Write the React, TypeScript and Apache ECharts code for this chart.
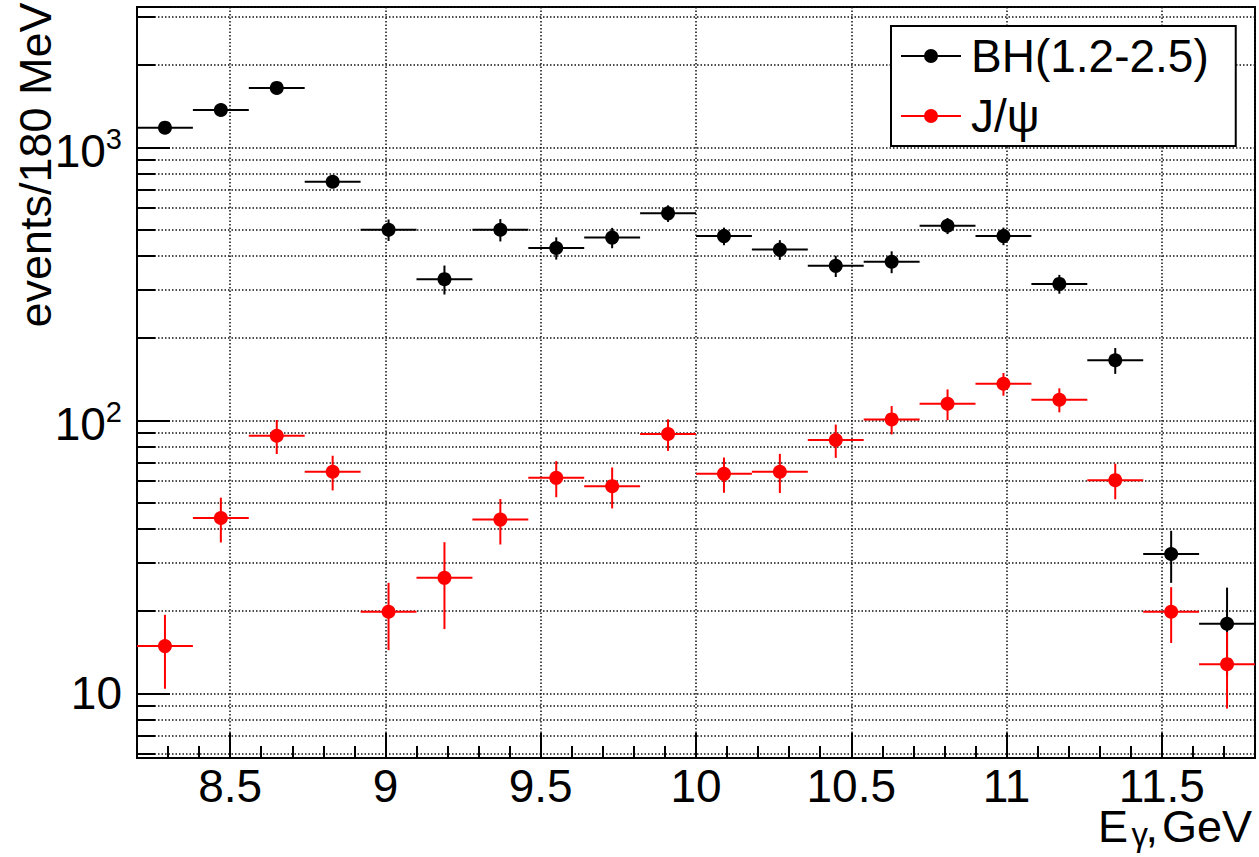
import React, { useEffect, useRef } from 'react';
import * as echarts from 'echarts';

// ---- data ----
const BIN_CENTERS = [8.29, 8.47, 8.65, 8.83, 9.01, 9.19, 9.37, 9.55, 9.73, 9.91, 10.09, 10.27, 10.45, 10.63, 10.81, 10.99, 11.17, 11.35, 11.53, 11.71];
const BIN_WIDTH = 0.18;
const BH_COUNTS = [1180, 1370, 1650, 748, 499, 329, 499, 428, 467, 573, 473, 422, 368, 381, 516, 473, 316, 166, 32.4, 18.0];
const BH_ERRORS = [35, 38, 42, 30, 45, 40, 47, 40, 40, 40, 35, 35, 33, 35, 35, 35, 25, 18, 7, 6.4];
const JPSI_COUNTS = [14.9, 43.9, 87.8, 64.8, 19.9, 26.5, 43.3, 61.6, 57.4, 89.1, 63.7, 64.8, 84.7, 100.8, 115, 136.1, 119, 60.4, 19.9, 12.8];
const JPSI_ERRORS = [4.5, 8.2, 12.5, 9.4, 5.5, 9.3, 8.2, 9.3, 9.8, 11.8, 9.4, 10.6, 11.8, 12, 14.8, 13, 12, 9, 4.6, 4];
const SERIES_NAMES = ['BH(1.2-2.5)', 'J/ψ'];
const SERIES_COLORS = ['#000000', '#ff0000'];
const X_RANGE = [8.2, 11.8];
const Y_RANGE = [5.8, 3265];
const Y_TITLE = 'events/180 MeV';
const X_TITLE_PARTS = ['E', 'γ', ',', 'GeV'];

const FONT = '"Liberation Sans", Arial, Helvetica, sans-serif';

function makeData(counts: number[], errors: number[]) {
  return BIN_CENTERS.map((x, i) => [x, counts[i], errors[i]]);
}

function makeRenderItem(color: string) {
  return (params: any, api: any) => {
    const x = api.value(0);
    const y = api.value(1);
    const e = api.value(2);
    const c = api.coord([x, y]);
    const l = api.coord([x - BIN_WIDTH / 2, y]);
    const r = api.coord([x + BIN_WIDTH / 2, y]);
    const t = api.coord([x, y + e]);
    const b = api.coord([x, Math.max(y - e, 1e-3)]);
    return {
      type: 'group',
      children: [
        { type: 'line', shape: { x1: l[0], y1: c[1], x2: r[0], y2: c[1] }, style: { stroke: color, lineWidth: 2 } },
        { type: 'line', shape: { x1: c[0], y1: t[1], x2: c[0], y2: b[1] }, style: { stroke: color, lineWidth: 2 } },
        { type: 'circle', shape: { cx: c[0], cy: c[1], r: 7 }, style: { fill: color } },
      ],
    };
  };
}

const LEGEND_ICON = 'path://M0,6L60,6L60,8L0,8Z M23,7A7,7,0,1,1,37,7A7,7,0,1,1,23,7Z';

const gridLineStyle = { color: '#111', width: 1.5, type: [1.5, 2] as any };

function titleText(text: string, x: number, y: number, size: number) {
  return {
    type: 'text',
    x,
    y,
    style: {
      text, font: `${size}px ${FONT}`, lineHeight: Math.round(size * 0.75), fill: '#000',
      align: 'right', verticalAlign: 'middle', textAlign: 'right', textVerticalAlign: 'middle',
    },
  };
}

export default function App() {
  const ref = useRef<HTMLDivElement>(null);
  useEffect(() => {
    document.body.style.margin = '0';
    const chart = echarts.init(ref.current!, null, { renderer: 'svg' });
    const option: any = {
      animation: false,
      textStyle: { fontFamily: FONT },
      grid: { left: 137, top: 7, right: 4, bottom: 99, show: true, borderColor: '#000', borderWidth: 2, backgroundColor: 'transparent' },
      xAxis: {
        type: 'value',
        min: X_RANGE[0],
        max: X_RANGE[1],
        splitNumber: 7,
        axisLine: { show: true, lineStyle: { color: '#000', width: 2 } },
        axisTick: { show: true, inside: true, length: 25, lineStyle: { color: '#000', width: 2 } },
        minorTick: { show: true, splitNumber: 5, length: 12, lineStyle: { color: '#000', width: 2 } },
        splitLine: { show: true, lineStyle: gridLineStyle },
        axisLabel: {
          show: true, margin: 11, color: '#000', fontSize: 46, lineHeight: 34, fontFamily: FONT,
          showMinLabel: false, showMaxLabel: false,
          formatter: (v: number) => {
            const r = Math.round(v * 2) / 2;
            if (Math.abs(v - r) > 1e-6) return '';
            return String(r);
          },
        },
      },
      yAxis: {
        type: 'log',
        logBase: 10,
        min: Y_RANGE[0],
        max: Y_RANGE[1],
        axisLine: { show: true, lineStyle: { color: '#000', width: 2 } },
        axisTick: { show: true, inside: true, length: 33, lineStyle: { color: '#000', width: 2 } },
        minorTick: { show: true, splitNumber: 9, length: 18, lineStyle: { color: '#000', width: 2 } },
        splitLine: { show: true, lineStyle: gridLineStyle },
        minorSplitLine: { show: true, lineStyle: gridLineStyle },
        axisLabel: {
          show: true, margin: 15, color: '#000', fontFamily: FONT,
          showMinLabel: false, showMaxLabel: false,
          formatter: (v: number) => {
            const p = Math.log10(v);
            const r = Math.round(p);
            if (Math.abs(p - r) > 1e-6) return '';
            if (r === 1) return '{m|10}';
            return `{mp|10}{s|${r}}`;
          },
          rich: {
            m: { fontSize: 46, lineHeight: 46, fontFamily: FONT, color: '#000' },
            mp: { fontSize: 46, lineHeight: 46, padding: [8, 0, 0, 0], fontFamily: FONT, color: '#000' },
            s: { fontSize: 29, lineHeight: 44, verticalAlign: 'top', fontFamily: FONT, color: '#000' },
          },
        },
      },
      legend: {
        orient: 'vertical',
        left: 891,
        top: 26,
        padding: [5, 27, 5, 10],
        itemGap: 10,
        itemWidth: 60,
        itemHeight: 14,
        backgroundColor: '#fff',
        borderColor: '#000',
        borderWidth: 2,
        selectedMode: false,
        textStyle: { fontSize: 46, lineHeight: 50, color: '#000', fontFamily: FONT, padding: [0, 0, 0, 5] },
        data: SERIES_NAMES.map((n) => ({ name: n, icon: LEGEND_ICON })),
        itemStyle: { borderWidth: 0 },
      },
      graphic: [
        {
          type: 'text',
          x: 35,
          y: 165,
          rotation: Math.PI / 2,
          style: { text: Y_TITLE, font: `45px ${FONT}`, fill: '#000', align: 'center', verticalAlign: 'middle', textAlign: 'center', textVerticalAlign: 'middle' },
        },
        titleText(X_TITLE_PARTS[0], 1128, 826, 45),
        titleText(X_TITLE_PARTS[1], 1148, 834, 33),
        titleText(X_TITLE_PARTS[2], 1158, 826, 45),
        titleText(X_TITLE_PARTS[3], 1252, 826, 45),
      ],
      series: [
        {
          name: SERIES_NAMES[0],
          type: 'custom',
          itemStyle: { color: SERIES_COLORS[0] },
          encode: { x: 0, y: 1 },
          data: makeData(BH_COUNTS, BH_ERRORS),
          renderItem: makeRenderItem(SERIES_COLORS[0]),
          z: 3,
        },
        {
          name: SERIES_NAMES[1],
          type: 'custom',
          itemStyle: { color: SERIES_COLORS[1] },
          encode: { x: 0, y: 1 },
          data: makeData(JPSI_COUNTS, JPSI_ERRORS),
          renderItem: makeRenderItem(SERIES_COLORS[1]),
          z: 4,
        },
      ],
    };
    chart.setOption(option);
    return () => chart.dispose();
  }, []);
  return <div ref={ref} style={{ width: 1259, height: 857 }} />;
}
